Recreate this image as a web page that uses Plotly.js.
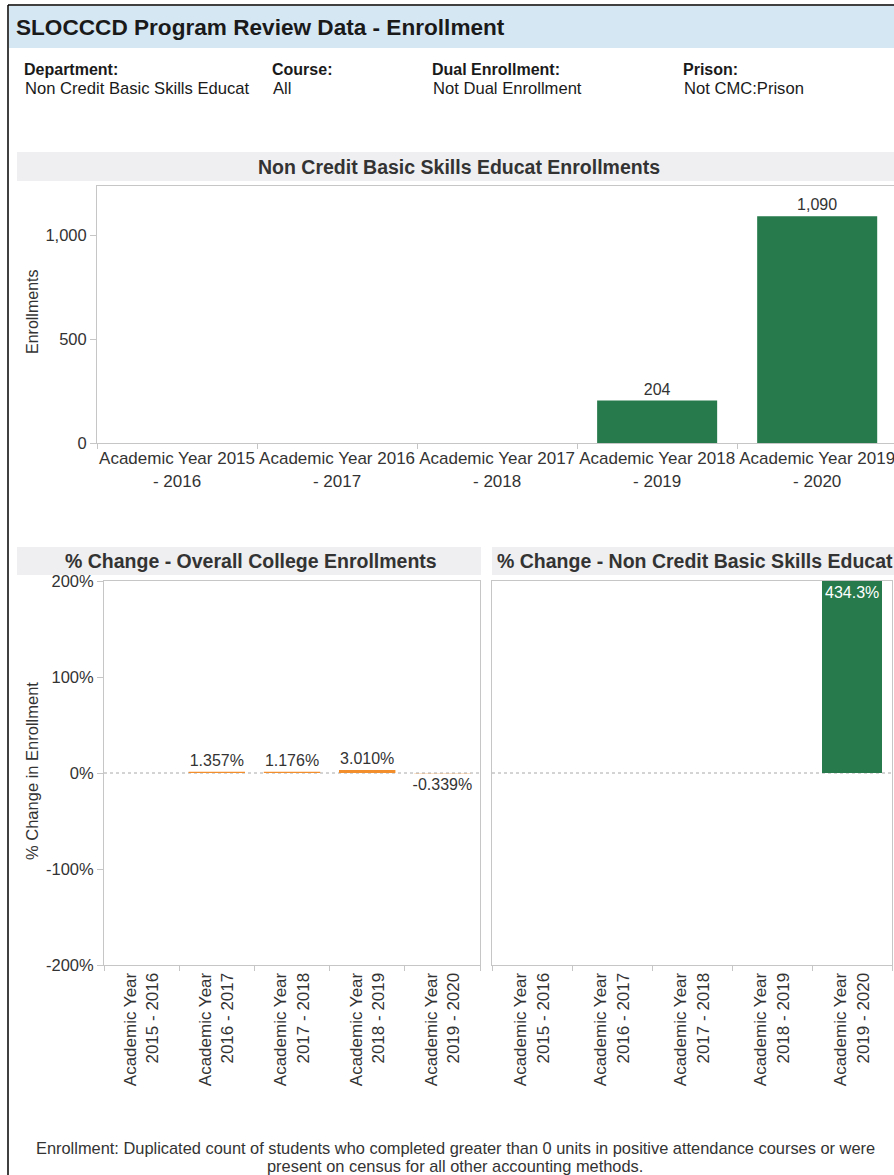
<!DOCTYPE html>
<html>
<head>
<meta charset="utf-8">
<script src="https://cdn.plot.ly/plotly-3.0.1.min.js"></script>
<style>
html,body{margin:0;padding:0;background:#fff;overflow:hidden;}
#chart{width:894px;height:1175px;}
</style>
</head>
<body>
<div id="chart"></div>
<script>
// ---- data ----
const years = ['2015 - 2016', '2016 - 2017', '2017 - 2018', '2018 - 2019', '2019 - 2020'];
const categories = years.map(y => 'Academic Year ' + y);
const enrollments = [null, null, null, 204, 1090];
const collegeChange = [null, 1.357, 1.176, 3.010, -0.339];
const deptChange = [null, null, null, null, 434.3];
const topTickLabels = ['Academic Year 2015<br>- 2016', 'Academic Year 2016<br>- 2017', 'Academic Year 2017<br>- 2018', 'Academic Year 2018<br>- 2019', 'Academic Year 2019<br>- 2020'];
const bottomTickLabels = ['Academic Year<br>2015 - 2016', 'Academic Year<br>2016 - 2017', 'Academic Year<br>2017 - 2018', 'Academic Year<br>2018 - 2019', 'Academic Year<br>2019 - 2020'];
const pctTicks = [-200, -100, 0, 100, 200];
const pctTickLabels = ['-200%', '-100%', '0%', '100%', '200%'];
const enrTicks = [0, 500, 1000];
const enrTickLabels = ['0', '500', '1,000'];
const filters = [
  {label: 'Department:', value: 'Non Credit Basic Skills Educat'},
  {label: 'Course:', value: 'All'},
  {label: 'Dual Enrollment:', value: 'Not Dual Enrollment'},
  {label: 'Prison:', value: 'Not CMC:Prison'}
];

// ---- styling ----
const W = 894, H = 1175;
const FONT = 'Liberation Sans, Arial, Helvetica, sans-serif';
const GREEN = '#267a4b';
const ORANGE = '#f28e2b';
const LINE = '#c6c6c6';
const TXT = '#333333';
const px = x => x / W;
const py = y => 1 - y / H;
const filterX = [22, 270, 430, 681];

const fmtInt = v => v == null ? '' : v.toLocaleString('en-US');
const fmtPct3 = v => v == null ? '' : v.toFixed(3) + '%';

const traces = [
  {type: 'bar', x: categories, y: enrollments, xaxis: 'x', yaxis: 'y',
   marker: {color: GREEN}, text: enrollments.map(fmtInt), textposition: 'outside', constraintext: 'none',
   textfont: {family: FONT, size: 16, color: TXT}, cliponaxis: false, hoverinfo: 'x+y'},
  {type: 'bar', x: categories, y: collegeChange, xaxis: 'x2', yaxis: 'y2',
   marker: {color: ORANGE}, text: collegeChange.map(fmtPct3), textposition: 'outside', constraintext: 'none',
   textfont: {family: FONT, size: 16, color: TXT}, cliponaxis: false, hoverinfo: 'x+y'},
  {type: 'bar', x: categories, y: deptChange, xaxis: 'x3', yaxis: 'y3',
   marker: {color: GREEN}, textposition: 'none', hoverinfo: 'x+y'}
];

const pctRange = [-200, 200];

const xCommon = {
  type: 'category', categoryorder: 'array', categoryarray: categories,
  showline: true, linecolor: LINE, linewidth: 1, showgrid: false, zeroline: false,
  ticks: 'outside', tickson: 'boundaries', ticklen: 5, tickcolor: LINE,
  tickfont: {family: FONT, size: 17, color: TXT}, fixedrange: true
};
const yCommon = {
  showline: true, linecolor: LINE, linewidth: 1, showgrid: false, zeroline: false,
  ticks: 'outside', ticklen: 6, tickcolor: LINE,
  tickfont: {family: FONT, size: 16.5, color: TXT}, fixedrange: true
};

const annotations = [];
// page title
annotations.push({xref: 'paper', yref: 'paper', x: px(14), y: py(28), xanchor: 'left', yanchor: 'middle',
  text: '<b>SLOCCCD Program Review Data - Enrollment</b>', showarrow: false,
  font: {family: FONT, size: 22.6, color: '#1a1a1a'}});
// filters
filters.forEach((f, i) => {
  annotations.push({xref: 'paper', yref: 'paper', x: px(filterX[i]), y: py(70), xanchor: 'left', yanchor: 'middle',
    text: '<b>' + f.label + '</b>', showarrow: false, font: {family: FONT, size: 16, color: '#1a1a1a'}});
  annotations.push({xref: 'paper', yref: 'paper', x: px(filterX[i] + 1), y: py(89), xanchor: 'left', yanchor: 'middle',
    text: f.value, showarrow: false, font: {family: FONT, size: 16.6, color: '#1a1a1a'}});
});
// section headers
annotations.push({xref: 'paper', yref: 'paper', x: px(459), y: py(167), xanchor: 'center', yanchor: 'middle',
  text: '<b>Non Credit Basic Skills Educat Enrollments</b>', showarrow: false, font: {family: FONT, size: 19.5, color: TXT}});
annotations.push({xref: 'paper', yref: 'paper', x: px(251), y: py(561), xanchor: 'center', yanchor: 'middle',
  text: '<b>% Change - Overall College Enrollments</b>', showarrow: false, font: {family: FONT, size: 19.5, color: TXT}});
annotations.push({xref: 'paper', yref: 'paper', x: px(495), y: py(561), xanchor: 'left', yanchor: 'middle',
  text: '<b>% Change - Non Credit Basic Skills Educat</b>', showarrow: false, font: {family: FONT, size: 19.5, color: TXT}});
// axis titles
annotations.push({xref: 'paper', yref: 'paper', x: px(32), y: py(312), xanchor: 'center', yanchor: 'middle', textangle: -90,
  text: 'Enrollments', showarrow: false, font: {family: FONT, size: 16, color: TXT}});
annotations.push({xref: 'paper', yref: 'paper', x: px(32), y: py(771), xanchor: 'center', yanchor: 'middle', textangle: -90,
  text: '% Change in Enrollment', showarrow: false, font: {family: FONT, size: 16.5, color: TXT}});
// labels inside clipped dept bars
deptChange.forEach((v, i) => {
  if (v == null) return;
  annotations.push({xref: 'x3', yref: 'y3', x: categories[i], y: Math.min(v, pctRange[1]), xanchor: 'center', yanchor: 'top',
    yshift: -1, text: v.toFixed(1) + '%', showarrow: false, font: {family: FONT, size: 16, color: '#ffffff'}});
});
// footer
annotations.push({xref: 'paper', yref: 'paper', x: px(455), y: py(1148), xanchor: 'center', yanchor: 'middle',
  text: 'Enrollment: Duplicated count of students who completed greater than 0 units in positive attendance courses or were',
  showarrow: false, font: {family: FONT, size: 16.4, color: TXT}});
annotations.push({xref: 'paper', yref: 'paper', x: px(455), y: py(1166), xanchor: 'center', yanchor: 'middle',
  text: 'present on census for all other accounting methods.',
  showarrow: false, font: {family: FONT, size: 16.4, color: TXT}});

const shapes = [
  // outer border
  {type: 'line', xref: 'paper', yref: 'paper', x0: px(8), x1: px(8), y0: py(5), y1: py(1175), line: {color: '#000', width: 1.5}, layer: 'above'},
  {type: 'line', xref: 'paper', yref: 'paper', x0: px(8), x1: 1, y0: py(5), y1: py(5), line: {color: '#000', width: 1.5}, layer: 'above'},
  // title band
  {type: 'rect', xref: 'paper', yref: 'paper', x0: px(9), x1: 1, y0: py(48), y1: py(6), fillcolor: '#d6e7f4', line: {width: 0}, layer: 'below'},
  // header bands
  {type: 'rect', xref: 'paper', yref: 'paper', x0: px(17), x1: 1, y0: py(181), y1: py(152), fillcolor: '#efeff1', line: {width: 0}, layer: 'below'},
  {type: 'rect', xref: 'paper', yref: 'paper', x0: px(17), x1: px(481), y0: py(575), y1: py(547), fillcolor: '#efeff1', line: {width: 0}, layer: 'below'},
  {type: 'rect', xref: 'paper', yref: 'paper', x0: px(492), x1: 1, y0: py(575), y1: py(547), fillcolor: '#efeff1', line: {width: 0}, layer: 'below'},
  // dotted zero lines
  {type: 'line', xref: 'x2 domain', yref: 'y2', x0: 0, x1: 1, y0: 0, y1: 0, line: {color: '#a8a8a8', width: 1, dash: 'dot'}, layer: 'below'},
  {type: 'line', xref: 'x3 domain', yref: 'y3', x0: 0, x1: 1, y0: 0, y1: 0, line: {color: '#a8a8a8', width: 1, dash: 'dot'}, layer: 'below'}
];

const layout = {
  width: W, height: H, margin: {l: 0, r: 0, t: 0, b: 0, pad: 0},
  paper_bgcolor: '#ffffff', plot_bgcolor: '#ffffff', showlegend: false,
  bargap: 0.25, font: {family: FONT, color: TXT},
  xaxis: Object.assign({}, xCommon, {domain: [px(97), 1], anchor: 'y', range: [-0.5, 4.48],
    tickvals: categories, ticktext: topTickLabels, tickangle: 0, mirror: true}),
  yaxis: Object.assign({}, yCommon, {domain: [py(443), py(186)], anchor: 'x', range: [0, 1236],
    tickvals: enrTicks, ticktext: enrTickLabels}),
  xaxis2: Object.assign({}, xCommon, {domain: [px(104), px(480)], anchor: 'y2', range: [-0.5, 4.5],
    tickvals: categories, ticktext: bottomTickLabels, tickangle: -90, mirror: true}),
  yaxis2: Object.assign({}, yCommon, {domain: [py(965), py(581)], anchor: 'x2', range: pctRange,
    tickvals: pctTicks, ticktext: pctTickLabels, mirror: true}),
  xaxis3: Object.assign({}, xCommon, {domain: [px(492), px(892)], anchor: 'y3', range: [-0.5, 4.5],
    tickvals: categories, ticktext: bottomTickLabels, tickangle: -90, mirror: true}),
  yaxis3: Object.assign({}, yCommon, {domain: [py(965), py(581)], anchor: 'x3', range: pctRange,
    tickvals: pctTicks, showticklabels: false, ticks: '', mirror: true}),
  annotations: annotations,
  shapes: shapes
};

Plotly.newPlot('chart', traces, layout, {displayModeBar: false, staticPlot: true});
</script>
</body>
</html>
